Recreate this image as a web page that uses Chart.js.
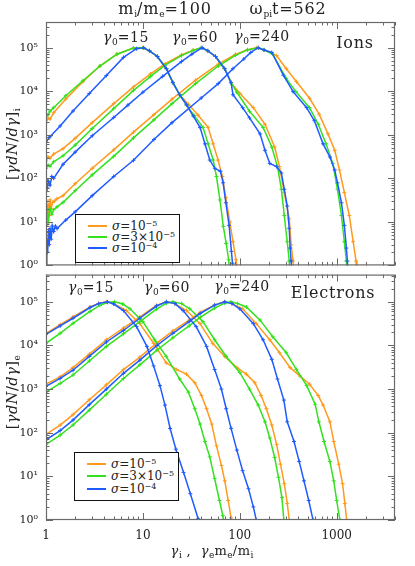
<!DOCTYPE html>
<html><head><meta charset="utf-8">
<script src="https://cdn.jsdelivr.net/npm/chart.js@4.4.1/dist/chart.umd.min.js"></script>
<style>
body{margin:0;background:#fff;width:415px;height:566px;overflow:hidden;position:relative;font-family:"DejaVu Serif",serif;color:#222}
canvas{position:absolute;left:0}
#c1{top:0}
#c2{top:260px}
.t{position:absolute;white-space:nowrap;font-size:14px;line-height:1;transform:translate(-50%,-50%);letter-spacing:0.6px}
.t sub{font-size:9px;vertical-align:-3px;letter-spacing:0}
.big{font-size:16px;letter-spacing:0.8px}
.yt{position:absolute;white-space:nowrap;font-size:14.5px;line-height:1;transform:translate(-50%,-50%) rotate(-90deg);letter-spacing:0.5px}
.yt sub{font-size:9px;vertical-align:-3px}
.leg{position:absolute;border:1.5px solid #111;background:#fff;box-sizing:border-box}
.ln{position:absolute;left:12px;width:19px;height:2px}
.lt{position:absolute;left:36px;font-size:12px;line-height:1;white-space:nowrap}
.lt sup{font-size:8px;vertical-align:4px}
</style></head>
<body>
<canvas id="c1" width="415" height="280"></canvas>
<canvas id="c2" width="415" height="306"></canvas>

<div class="t big" style="left:165px;top:10px">m<sub>i</sub>/m<sub>e</sub>=100</div>
<div class="t big" style="left:288px;top:10px">ω<sub>pi</sub>t=562</div>

<div class="t" style="left:126px;top:38px"><i>γ</i><sub>0</sub>=15</div>
<div class="t" style="left:195px;top:38px"><i>γ</i><sub>0</sub>=60</div>
<div class="t" style="left:262px;top:37px"><i>γ</i><sub>0</sub>=240</div>
<div class="t big" style="left:355px;top:43px">Ions</div>

<div class="t" style="left:91px;top:288px"><i>γ</i><sub>0</sub>=15</div>
<div class="t" style="left:167px;top:288px"><i>γ</i><sub>0</sub>=60</div>
<div class="t" style="left:242px;top:287px"><i>γ</i><sub>0</sub>=240</div>
<div class="t big" style="left:333px;top:293px">Electrons</div>

<div class="yt" style="left:13px;top:144px">[<i>γdN</i>/<i>dγ</i>]<sub>i</sub></div>
<div class="yt" style="left:13px;top:392px">[<i>γdN</i>/<i>dγ</i>]<sub>e</sub></div>
<div class="t" style="left:212px;top:552px;font-size:13px"><i>γ</i><sub>i</sub> ,&nbsp;&nbsp;<i>γ</i><sub>e</sub>m<sub>e</sub>/m<sub>i</sub></div>

<div class="leg" style="left:75px;top:214px;width:105px;height:49px">
 <div class="ln" style="top:10px;background:#FF9A1E"></div><div class="lt" style="top:5px"><i>σ</i>=10<sup>−5</sup></div>
 <div class="ln" style="top:21px;background:#33E11E"></div><div class="lt" style="top:16px"><i>σ</i>=3×10<sup>−5</sup></div>
 <div class="ln" style="top:32px;background:#1F5BFF"></div><div class="lt" style="top:27px"><i>σ</i>=10<sup>−4</sup></div>
</div>
<div class="leg" style="left:74px;top:452px;width:105px;height:49px">
 <div class="ln" style="top:10px;background:#FF9A1E"></div><div class="lt" style="top:5px"><i>σ</i>=10<sup>−5</sup></div>
 <div class="ln" style="top:22px;background:#33E11E"></div><div class="lt" style="top:17px"><i>σ</i>=3×10<sup>−5</sup></div>
 <div class="ln" style="top:35px;background:#1F5BFF"></div><div class="lt" style="top:30px"><i>σ</i>=10<sup>−4</sup></div>
</div>

<script>
// ---------- data: [gamma, gamma dN/dgamma] ----------
const sigmaLabels = ['σ=1e-5', 'σ=3e-5', 'σ=1e-4'];
const xTicks = [1, 10, 100, 1000];
const yTicks = [1, 10, 100, 1000, 10000, 100000];

// Ions
const ion15_o = [[1,1900],[1.05,2400],[1.1,2300],[1.2,3200],[1.6,6600],[2.4,16600],[3.6,38000],[5.4,71000],[8,98000],[10,100000],[11.7,85000],[14.1,63000],[17.5,33000],[20.4,15800],[24,8300],[29.5,5000],[37.2,2800],[47.1,1480],[53.1,620],[59.7,263],[66.1,110],[71.8,36],[78.9,10],[85.1,3.5],[91.2,1.35],[95.5,0.6]];
const ion15_g = [[1,2700],[1.05,2900],[1.1,3500],[1.2,4200],[1.6,7900],[2.4,17400],[3.6,38000],[5.4,71000],[8,98000],[10,100000],[11.7,85000],[14.1,63000],[17.5,33000],[20.4,15800],[24,8300],[28.2,4800],[33.9,2750],[41.7,1480],[47.1,620],[53.1,263],[57.5,110],[62.4,32],[67.6,7.9],[72.4,3.2],[76.7,1.35],[79.4,0.6]];
const ion15_b = [[1,680],[1.1,900],[1.4,1600],[1.9,3500],[2.8,8900],[4.2,23000],[6.3,60000],[8.6,95000],[10.2,100000],[11.7,85000],[14.1,63000],[17.5,33000],[20.4,15800],[24,8300],[28.2,4900],[33.1,2700],[38.9,1480],[43.7,620],[49,263],[55.2,170],[63.1,145],[67.3,79],[71.8,27.5],[77.6,8.3],[82,2.1],[84.1,1.12],[86.1,0.5]];

const ion60_o = [[1,250],[1.05,310],[1.1,290],[1.2,360],[1.5,480],[2,830],[3,1900],[5,5200],[8,12600],[12,25000],[17,43000],[25,68000],[33,88000],[40,100000],[46.8,85000],[56.2,63000],[69.8,33000],[81.3,15800],[100,9000],[138,4200],[182,1740],[229,525],[257,186],[288,47],[324,11.7],[339,2.95],[355,1.26],[363,0.5]];
const ion60_g = [[1,170],[1.05,200],[1.1,190],[1.2,240],[1.5,330],[2,580],[3,1400],[5,4000],[8,10500],[12,22000],[17,40000],[25,66000],[33,87000],[40,100000],[46.8,85000],[56.2,63000],[69.8,33000],[81.3,15800],[93.3,9500],[126,3470],[174,1480],[214,525],[245,186],[269,56],[288,14],[309,3.5],[324,1.26],[331,0.5]];
const ion60_b = [[1,95],[1.03,60],[1.06,85],[1.1,70],[1.15,110],[1.2,100],[1.5,210],[2,400],[3,950],[5,2500],[7,4800],[10,9500],[16,22000],[25,48000],[32,71000],[41,100000],[46.8,85000],[56.2,63000],[69.8,33000],[81.3,15800],[85.1,8300],[107,4200],[126,2450],[162,1050],[182,440],[204,220],[240,186],[269,132],[288,56],[309,23],[324,7.1],[331,2.5],[339,1.26],[347,0.5]];

const ion240_o = [[1,12],[1.02,30],[1.04,9],[1.06,25],[1.08,14],[1.1,32],[1.13,20],[1.17,28],[1.22,30],[1.3,34],[1.5,40],[2,75],[3,170],[5,450],[8,1150],[13,2900],[20,6600],[35,18000],[60,42000],[90,70000],[120,90000],[148,100000],[178,89000],[240,66000],[302,33000],[385,16600],[525,6900],[661,2950],[813,1050],[955,440],[1070,155],[1200,47],[1350,14],[1480,3.5],[1585,1.26],[1620,0.5]];
const ion240_g = [[1,8],[1.03,18],[1.06,11],[1.1,20],[1.15,15],[1.2,19],[1.3,22],[1.5,28],[2,52],[3,120],[5,320],[8,850],[13,2200],[20,5200],[35,15000],[60,38000],[90,67000],[120,89000],[155,100000],[178,89000],[219,71000],[302,19500],[380,9800],[525,4200],[646,1740],[776,620],[912,220],[1020,56],[1120,14],[1200,3.5],[1260,1.26],[1290,0.5]];
const ion240_b = [[1,1],[1.02,4],[1.04,2],[1.06,6],[1.08,3],[1.1,7],[1.13,4],[1.16,8],[1.2,6],[1.25,8],[1.3,7],[1.6,11],[2,17],[3,40],[5,110],[8,260],[13,780],[20,1900],[40,7000],[60,15000],[85,33000],[110,55000],[130,78000],[155,100000],[178,89000],[214,78000],[282,23400],[355,9800],[490,4200],[589,2100],[724,620],[851,310],[955,155],[1020,79],[1120,27.5],[1200,8.3],[1260,2.5],[1290,1.26],[1320,0.5]];

// Electrons
const el15_o = [[1,19000],[1.4,30000],[1.9,45000],[2.85,76000],[3.5,92000],[4.2,100000],[5,91000],[6.76,63000],[9.3,31600],[12.9,11200],[17.4,4000],[22.4,2800],[28.2,2200],[34.3,1400],[40.3,710],[45.4,355],[51.3,158],[57.5,50],[64.6,17.8],[70,7.9],[75.9,2.8],[81.3,1.12],[85,0.63]];
const el15_g = [[1,11200],[1.4,19000],[1.9,32000],[2.85,60000],[3.6,83000],[4.3,96000],[5.1,100000],[6.2,89000],[7.35,69000],[10,35000],[13.2,13500],[17.4,5600],[24,1700],[29.5,850],[34.3,355],[38.9,158],[43.7,63],[49,28],[55,8.9],[61.7,2.8],[66.8,1.26],[70,0.63]];
const el15_b = [[1,18000],[1.4,28000],[1.9,42000],[2.85,74000],[3.5,91000],[4.3,100000],[5,89000],[6.3,63000],[8.6,27000],[11,9500],[12.9,3400],[15,1200],[16.9,430],[19.1,125],[21.9,42],[26.3,12.3],[30.9,4],[37.2,1.07],[39.8,0.63]];

const el60_o = [[1,1300],[1.4,1900],[1.9,3100],[2.8,6300],[4.2,13500],[6.3,25000],[9.3,45000],[13.8,83000],[17.5,100000],[21.4,91000],[28.2,63000],[38.9,31600],[52.5,11200],[70,5600],[93.3,3100],[117,2200],[143,1400],[166,710],[188,355],[214,150],[240,54],[263,19],[288,6.8],[309,2.4],[324,1],[335,0.63]];
const el60_g = [[1,850],[1.4,1350],[1.9,2100],[2.8,4400],[4.2,9500],[6.3,18500],[9.3,35000],[13.8,68000],[17.5,93000],[20.4,100000],[25.1,91000],[30.5,69000],[41.7,35000],[55,13500],[72.4,5600],[100,2400],[126,1000],[155,430],[182,178],[204,76],[229,27],[251,9.5],[272,3.3],[285,1],[295,0.63]];
const el60_b = [[1,1150],[1.4,1750],[1.9,2700],[2.8,5600],[4.2,12000],[6.3,22000],[9.3,42000],[13.8,80000],[17.5,100000],[21.4,91000],[26,63000],[35.5,27000],[45.4,9500],[55,2800],[64.6,1000],[72.4,355],[81.3,126],[93.3,40],[107,13.5],[123,5.2],[138,2],[148,1],[155,0.63]];

const el240_o = [[1,92],[1.4,150],[1.9,260],[2.8,570],[4.2,1250],[6.3,2800],[9.3,5400],[14,11500],[20.4,21500],[30,38000],[39,57000],[55,85000],[70,100000],[83,91000],[107,69000],[148,31600],[204,13500],[257,6800],[331,3100],[417,2000],[525,1290],[646,710],[724,430],[851,178],[933,63],[1050,19],[1150,6.8],[1215,2.4],[1270,1],[1320,0.63]];
const el240_g = [[1,54],[1.4,88],[1.9,150],[2.8,330],[4.2,760],[6.3,1750],[9.3,3600],[14,7800],[20.4,15000],[30,28000],[39,44000],[55,72000],[70,93000],[81,100000],[95,91000],[117,76000],[162,38000],[219,15800],[302,6800],[385,2800],[490,1200],[600,450],[655,178],[741,63],[851,22],[933,7.9],[1000,2.8],[1080,1],[1120,0.63]];
const el240_b = [[1,69],[1.4,112],[1.9,195],[2.8,440],[4.2,1000],[6.3,2300],[9.3,4600],[14,10000],[20.4,19000],[30,35000],[39,54000],[55,84000],[70,100000],[83,91000],[100,69000],[138,31600],[174,13500],[214,4800],[245,1700],[285,560],[309,178],[363,63],[410,22],[460,7.9],[515,2.8],[570,1],[600,0.63]];

// ---------- drawing ----------
const COLORS = ['#FF9A1E', '#33E11E', '#1F5BFF'];
const SUP = {0:'\u2070',1:'\u00B9',2:'\u00B2',3:'\u00B3',4:'\u2074',5:'\u2075'};
const toXY = a => a.map(p => ({x: p[0], y: p[1]}));

function ds(arr, ci) {
  return {
    label: sigmaLabels[ci], data: toXY(arr),
    borderColor: COLORS[ci], backgroundColor: COLORS[ci],
    borderWidth: 1.5, pointStyle: 'cross', pointRadius: 2, pointBorderWidth: 1,
    pointHoverRadius: 0, tension: 0, fill: false
  };
}

const frameTicks = {
  id: 'frameTicks',
  afterDatasetsDraw(chart) {
    const {ctx, chartArea: a, scales} = chart;
    const xs = scales.x, ys = scales.y;
    ctx.save();
    ctx.strokeStyle = '#6a6a6a'; ctx.lineWidth = 1;
    ctx.beginPath();
    for (let k = 0; k < 4; k++) for (let m = 1; m < 10; m++) {
      const v = m * Math.pow(10, k); if (v > xs.max) break;
      const p = Math.round(xs.getPixelForValue(v)) + 0.5, L = m === 1 ? 7 : 3.5;
      ctx.moveTo(p, a.bottom); ctx.lineTo(p, a.bottom - L);
      ctx.moveTo(p, a.top); ctx.lineTo(p, a.top + L);
    }
    for (let k = 0; k < 6; k++) for (let m = 1; m < 10; m++) {
      const v = m * Math.pow(10, k); if (v > ys.max) break;
      const p = Math.round(ys.getPixelForValue(v)) + 0.5, L = m === 1 ? 7 : 3.5;
      ctx.moveTo(a.left, p); ctx.lineTo(a.left + L, p);
      ctx.moveTo(a.right, p); ctx.lineTo(a.right - L, p);
    }
    ctx.stroke();
    ctx.lineWidth = 1.2;
    ctx.strokeRect(a.left + 0.5, a.top + 0.5, a.right - a.left - 1, a.bottom - a.top - 1);
    ctx.restore();
  }
};

function makeChart(id, sets, yMax, showX, padding) {
  return new Chart(document.getElementById(id), {
    type: 'line',
    data: { datasets: sets },
    plugins: [frameTicks],
    options: {
      responsive: false, animation: false,
      layout: { padding },
      plugins: { legend: { display: false }, tooltip: { enabled: false } },
      scales: {
        x: {
          type: 'logarithmic', min: 1, max: 4000, display: showX,
          afterBuildTicks: s => { s.ticks = xTicks.map(v => ({value: v})); },
          afterFit: s => { if (showX) s.height = 30; },
          grid: { display: false, drawTicks: false }, border: { display: false },
          ticks: { padding: 9, maxRotation: 0, autoSkip: false, color: '#222',
                   font: { family: 'DejaVu Serif', size: 12 }, callback: v => String(v) }
        },
        y: {
          type: 'logarithmic', min: 1, max: yMax,
          afterBuildTicks: s => { s.ticks = yTicks.map(v => ({value: v})); },
          afterFit: s => { s.width = 46; },
          grid: { display: false, drawTicks: false }, border: { display: false },
          ticks: { padding: 8, autoSkip: false, color: '#222',
                   font: { family: 'DejaVu Serif', size: 11 },
                   callback: v => '10' + SUP[Math.round(Math.log10(v))] }
        }
      }
    }
  });
}

const ionSets = [
  ds(ion15_b,2), ds(ion60_b,2), ds(ion240_b,2),
  ds(ion15_g,1), ds(ion60_g,1), ds(ion240_g,1),
  ds(ion15_o,0), ds(ion60_o,0), ds(ion240_o,0)
];
const elSets = [
  ds(el15_b,2), ds(el60_b,2), ds(el240_b,2),
  ds(el15_g,1), ds(el60_g,1), ds(el240_g,1),
  ds(el15_o,0), ds(el60_o,0), ds(el240_o,0)
];

makeChart('c1', ionSets, 3.9e5, false, {left: 0, right: 20, top: 22, bottom: 10});
makeChart('c2', elSets, 4.2e5, true, {left: 0, right: 20, top: 10, bottom: 16});
</script>
</body></html>
